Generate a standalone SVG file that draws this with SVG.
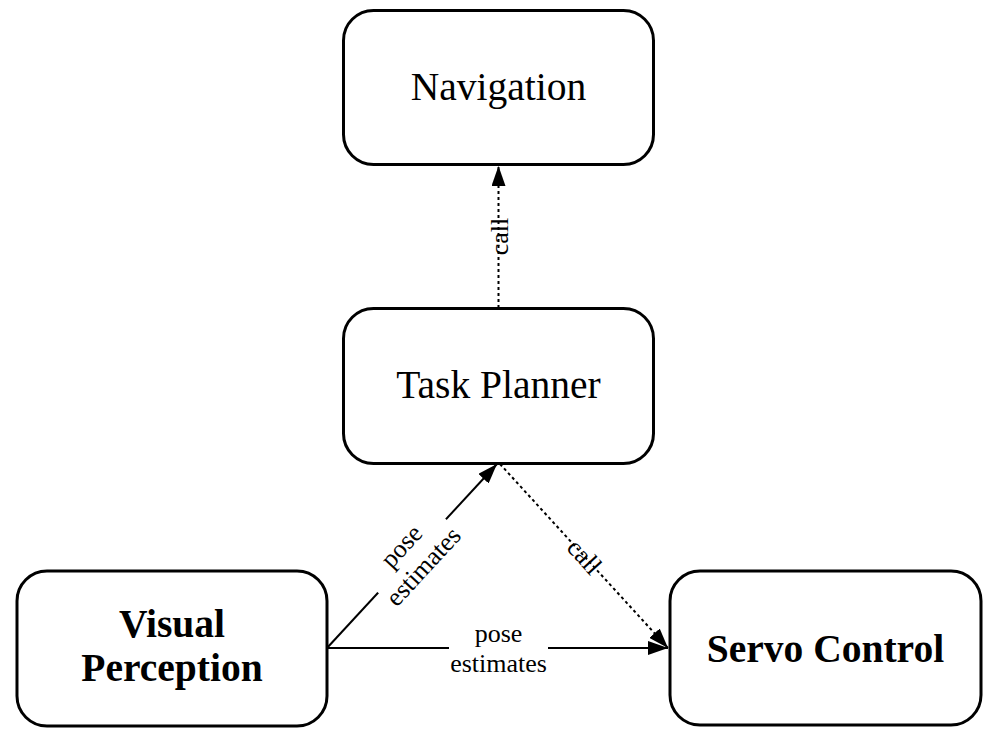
<svg xmlns="http://www.w3.org/2000/svg" width="990" height="737" viewBox="0 0 990 737">
  <style>
    .node { fill: #ffffff; stroke: #000000; stroke-width: 3; }
    .title { font-family: "Liberation Serif", "Times New Roman", serif; font-size: 39.5px; fill: #000000; text-anchor: middle; }
    .bold { font-weight: bold; }
    .edge { fill: none; stroke: #000000; stroke-width: 2; }
    .dotted { stroke-dasharray: 3 3; }
    .elabel { font-family: "Liberation Serif", "Times New Roman", serif; font-size: 26px; fill: #000000; text-anchor: middle; }
    .bg { fill: #ffffff; stroke: none; }
  </style>
  <defs>
    <marker id="arrow" markerUnits="userSpaceOnUse" markerWidth="20" markerHeight="14" refX="20" refY="7" orient="auto">
      <path d="M0,0 L20,7 L0,14 Z" fill="#000000"/>
    </marker>
  </defs>
  <rect x="0" y="0" width="990" height="737" fill="#ffffff"/>

  <g id="connectors">
    <g id="edge-task-nav">
      <line class="edge dotted" x1="498.5" y1="308" x2="498.5" y2="166" marker-end="url(#arrow)"/>
      <text class="elabel" transform="translate(500,236.5) rotate(-90)" x="0" y="8">call</text>
    </g>
    <g id="edge-vp-task">
      <line class="edge" x1="327" y1="648" x2="497" y2="464" marker-end="url(#arrow)"/>
      <g transform="translate(412,556) rotate(-47.3)">
        <rect class="bg" x="-50" y="-26" width="100" height="56"/>
        <text class="elabel" x="0" y="-6">pose</text>
        <text class="elabel" x="0" y="24">estimates</text>
      </g>
    </g>
    <g id="edge-task-servo">
      <line class="edge dotted" x1="500" y1="464" x2="668" y2="648" marker-end="url(#arrow)"/>
      <text class="elabel" transform="translate(584,557) rotate(47.6)" x="0" y="8">call</text>
    </g>
    <g id="edge-vp-servo">
      <line class="edge" x1="327" y1="648" x2="668" y2="648" marker-end="url(#arrow)"/>
      <g transform="translate(498.5,648)">
        <rect class="bg" x="-49.5" y="-26" width="99" height="56"/>
        <text class="elabel" x="0" y="-6">pose</text>
        <text class="elabel" x="0" y="24">estimates</text>
      </g>
    </g>
  </g>

  <g id="navigation">
    <rect class="node" x="343.5" y="10.5" width="310" height="154" rx="30" ry="30"/>
    <text class="title" x="498.5" y="100">Navigation</text>
  </g>
  <g id="task-planner">
    <rect class="node" x="343.5" y="308.5" width="310" height="155" rx="30" ry="30"/>
    <text class="title" x="498.5" y="398">Task Planner</text>
  </g>
  <g id="visual-perception">
    <rect class="node" x="17" y="571" width="310" height="155" rx="30" ry="30"/>
    <text class="title bold" x="172" y="637">Visual</text>
    <text class="title bold" x="172" y="681">Perception</text>
  </g>
  <g id="servo-control">
    <rect class="node" x="670" y="571" width="311" height="154" rx="30" ry="30"/>
    <text class="title bold" x="825.5" y="662">Servo Control</text>
  </g>
</svg>
